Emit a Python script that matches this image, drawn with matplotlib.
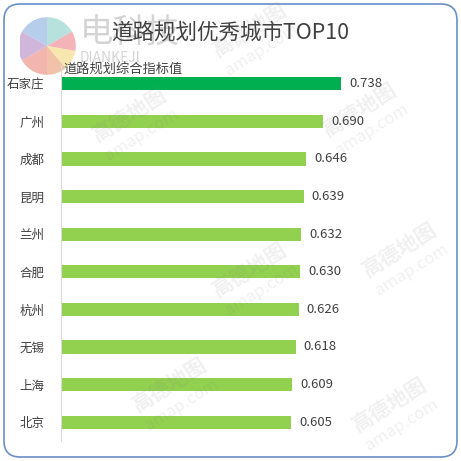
import matplotlib
matplotlib.use("Agg")
import matplotlib.pyplot as plt
from matplotlib.patches import FancyBboxPatch, Wedge

plt.rcParams['font.family'] = ['Noto Sans CJK SC', 'DejaVu Sans']

cities = ['石家庄', '广州', '成都', '昆明', '兰州', '合肥', '杭州', '无锡', '上海', '北京']
values = [0.738, 0.690, 0.646, 0.639, 0.632, 0.630, 0.626, 0.618, 0.609, 0.605]
title = '道路规划优秀城市TOP10'
subtitle = '道路规划综合指标值'

W = 461
fig = plt.figure(figsize=(4.61, 4.61), dpi=100)

def fx(px):
    return px / W

def fy(py):
    return 1 - py / W

# rounded frame
fig.patches.append(FancyBboxPatch((fx(4), fy(457)), fx(453), fx(453),
                                  boxstyle="round,pad=0,rounding_size=0.035",
                                  transform=fig.transFigure, fill=False,
                                  edgecolor='#6b8fc7', linewidth=1.2))

# logo (faint)
logo = fig.add_axes([fx(20), fy(76), fx(60), fx(60)])
logo.set_xlim(0, 1)
logo.set_ylim(0, 1)
logo.axis('off')
cols = ['#a9dcd8', '#f3a6ad', '#f6e3a0', '#f0b899', '#f2a9a0', '#c9a9d6', '#a9c6e6']
ang = [90, 30, -10, -50, -90, -150, -210, -270]
for k in range(7):
    logo.add_patch(Wedge((0.45, 0.5), 0.48, ang[k + 1], ang[k], color=cols[k], alpha=0.85, lw=0))
fig.text(fx(80), fy(32), '电科技', fontsize=24, color='#d4d4d4', va='center', ha='left')
fig.text(fx(80), fy(58), 'DIANKEJI', fontsize=10, color='#d4d4d4', va='center', ha='left')

ax = fig.add_axes([fx(61), fy(441), fx(380), fx(376)])
ax.patch.set_alpha(0)
colors = ['#00b050'] + ['#92d050'] * (len(values) - 1)
ax.barh(range(len(values)), values, height=0.35, color=colors)
for i, v in enumerate(values):
    ax.text(v + 0.021, i, f'{v:.3f}', va='center', ha='left', fontsize=9.5, color='#404040')

ax.set_xlim(0, 1.0)
ax.set_ylim(len(values) - 0.5, -0.5)
ax.set_yticks(range(len(values)))
ax.set_yticklabels(cities, fontsize=9, color='#404040')
ax.tick_params(axis='y', length=0, pad=12)
ax.set_xticks([])
for s in ['top', 'right', 'bottom']:
    ax.spines[s].set_visible(False)
ax.spines['left'].set_color('#d9d9d9')

fig.text(fx(230), fy(33), title, fontsize=15.5, color='#404040', ha='center', va='center')
fig.text(fx(63), fy(69), subtitle, fontsize=9.5, color='#404040', ha='left', va='center')

# amap watermarks
marks = [(250, 30), (130, 115), (360, 110), (250, 270), (400, 250), (170, 385), (390, 405)]
for x, y in marks:
    fig.text(fx(x), fy(y), '高德地图', fontsize=15, color='#808080', alpha=0.12,
             rotation=32, ha='center', va='center', fontweight='bold')
    fig.text(fx(x + 12), fy(y + 20), 'amap.com', fontsize=12, color='#808080', alpha=0.12,
             rotation=32, ha='center', va='center')

fig.savefig('out.png', dpi=100)
